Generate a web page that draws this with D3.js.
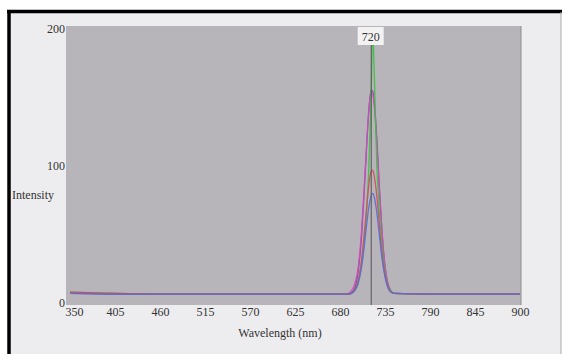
<!DOCTYPE html>
<html><head><meta charset="utf-8">
<script src="https://cdn.jsdelivr.net/npm/d3@7"></script>
<style>
html,body{margin:0;padding:0;background:#fff;}
svg{display:block;}
text{font-family:"Liberation Serif","Times New Roman",serif;fill:#333;}
</style></head>
<body>
<script>
// ---- data ----
const wavelengths = [350,405,460,515,570,625,680,690,694,698,702,706,709,712,715,718,720,722,725,728,731,734,738,742,746,790,845,900];
const seriesNames = ["purple","magenta","green","red","blue"];
const purpleVals  = [7,6.5,6.5,6.5,6.5,6.5,6.5,6.5,7.6,11,22,46,75,108,139,155,155,146,120,86,55,32,15,9,7,6.5,6.5,6.5];
const magentaVals = [7,7,6.5,6.5,6.5,6.5,6.5,7,9,14,25,50,78,110,138,154,152,143,117,84,55,33,16,9,7,6.5,6.5,6.5];
const greenVals   = [8,7,6.5,6.5,6.5,6.5,6.5,6.5,7,9,14,26,40,62,95,150,198,165,100,68,44,27,14,9,7,6.5,6.5,6.5];
const redVals     = [8,7,6.5,6.5,6.5,6.5,6.5,6.5,7,10,16,30,47,66,85,96,97,92,78,58,38,24,13,8,7,6.5,6.5,6.5];
const blueVals    = [7,6.5,6.5,6.5,6.5,6.5,6.5,6.5,7,9,14,25,38,54,69,78,80,77,66,50,34,22,12,8,7,6.5,6.5,6.5];
const xTicks = [350,405,460,515,570,625,680,735,790,845,900];
const yTicks = [0,100,200];
const peakMark = 720;
const xTitle = "Wavelength (nm)";
const yTitle = "Intensity";

const colors = {purple:"#7a4aa8", magenta:"#cc4fb8", green:"#3fbf45", red:"#d44a5a", blue:"#5a6ad8"};
const seriesData = {purple:purpleVals, magenta:magentaVals, green:greenVals, red:redVals, blue:blueVals};

const W=563,H=354;
const svg=d3.select("body").append("svg").attr("width",W).attr("height",H);

// outer panel
svg.append("rect").attr("x",9).attr("y",12).attr("width",552).attr("height",H).attr("fill","#ededef");
svg.append("line").attr("x1",7).attr("x2",562).attr("y1",11.5).attr("y2",11.5).attr("stroke","#000").attr("stroke-width",3.5);
svg.append("line").attr("x1",9).attr("x2",9).attr("y1",10).attr("y2",H).attr("stroke","#000").attr("stroke-width",3.5);
svg.append("line").attr("x1",561).attr("x2",561).attr("y1",12).attr("y2",H).attr("stroke","#aaa").attr("stroke-width",1);

const x=d3.scaleLinear().domain([350,900]).range([70,520]);
const y=d3.scaleLinear().domain([0,200]).range([303,29]);

// plot area
svg.append("rect").attr("x",66).attr("y",26).attr("width",455).attr("height",279).attr("fill","#b8b5ba");
svg.append("line").attr("x1",521).attr("x2",521).attr("y1",26).attr("y2",305).attr("stroke","#8c8a8e").attr("stroke-width",1);

// axes labels
const xAxis=d3.axisBottom(x).tickValues(xTicks).tickSize(0).tickPadding(0).tickFormat(d3.format("d"));
const gx=svg.append("g").attr("transform","translate(0,305)").call(xAxis);
gx.select(".domain").remove();
gx.selectAll("text").attr("font-size",12).attr("font-family","Liberation Serif").attr("fill","#333").attr("dy","0.9em")
  .attr("dx",(d,i)=>i===0?4:0);

const yAxis=d3.axisLeft(y).tickValues(yTicks).tickSize(0).tickPadding(0);
const gy=svg.append("g").attr("transform","translate(65,0)").call(yAxis);
gy.select(".domain").remove();
gy.selectAll("text").attr("font-size",12).attr("font-family","Liberation Serif").attr("fill","#333");

svg.append("text").attr("x",280).attr("y",337).attr("text-anchor","middle").attr("font-size",12).text(xTitle);
svg.append("text").attr("x",12).attr("y",199).attr("text-anchor","start").attr("font-size",12).text(yTitle);

// curves
const line=d3.line().x((d,i)=>x(wavelengths[i])).y(d=>y(d)).curve(d3.curveMonotoneX);
const g=svg.append("g");
seriesNames.forEach(n=>{
  g.append("path").datum(seriesData[n]).attr("d",line).attr("fill","none")
   .attr("stroke",colors[n]).attr("stroke-width",1.3).attr("opacity",0.9);
});

// peak marker
svg.append("line").attr("x1",x(peakMark)-1.5).attr("x2",x(peakMark)-1.5).attr("y1",45).attr("y2",305)
  .attr("stroke","#555").attr("stroke-width",1);
svg.append("rect").attr("x",x(peakMark)-15).attr("y",27).attr("width",26).attr("height",18).attr("fill","#f2f2f2");
svg.append("text").attr("x",x(peakMark)-2).attr("y",40.5).attr("text-anchor","middle").attr("font-size",12).text(String(peakMark));
</script>
</body></html>
